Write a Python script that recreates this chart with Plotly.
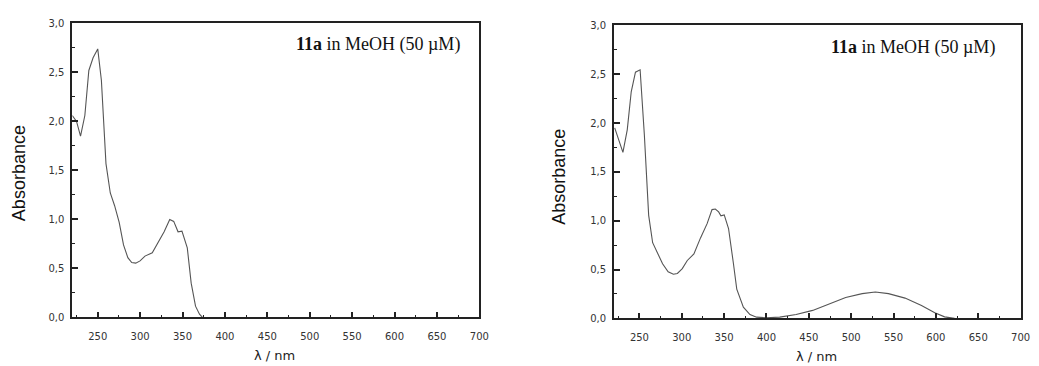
import plotly.graph_objects as go

# UV-Vis absorption spectra of 11a in MeOH (50 µM)
wl_a = [220, 225, 229.7, 234.8, 239.5, 244.5, 250, 254.3, 259.7, 264.8, 269.9, 275.3,
        280.4, 285.5, 290.1, 294.8, 299.9, 305.7, 314.3, 319.3, 328.3, 334.9, 339.6,
        344.7, 349.3, 355.6, 360.2, 365.3, 370, 373.5]
abs_a = [2.06, 2.0, 1.85, 2.06, 2.52, 2.65, 2.74, 2.42, 1.57, 1.27, 1.14, 0.97,
         0.74, 0.61, 0.56, 0.554, 0.577, 0.626, 0.66, 0.74, 0.874, 1.0, 0.98,
         0.874, 0.88, 0.71, 0.35, 0.115, 0.033, 0.0]

wl_b = [220.8, 230.5, 235.6, 240.3, 245.3, 250.8, 255.8, 260.9, 265.6, 271.4, 277.3,
        283.9, 290.1, 294.8, 300.6, 306.5, 314.3, 322.1, 329.9, 335.7, 339.6, 343.5,
        346.2, 350.1, 355.2, 361, 364.9, 372.7, 380.5, 388.3, 400, 415.6, 435, 454.5,
        474, 493.5, 513, 528.5, 544, 563.6, 583, 598.7, 610.3, 622]
abs_b = [1.95, 1.70, 1.93, 2.32, 2.52, 2.545, 1.88, 1.055, 0.775, 0.66, 0.56,
         0.478, 0.452, 0.46, 0.51, 0.593, 0.66, 0.824, 0.97, 1.114, 1.12, 1.09,
         1.05, 1.06, 0.92, 0.56, 0.30, 0.115, 0.04, 0.013, 0.007, 0.013, 0.04, 0.082,
         0.148, 0.214, 0.254, 0.27, 0.254, 0.208, 0.132, 0.059, 0.016, 0.0]

x_range = [220, 700]
y_range = [0, 3]

fig = go.Figure()
fig.add_trace(go.Scatter(x=wl_a, y=abs_a, mode="lines", line=dict(color="#555555", width=1.1),
                         xaxis="x", yaxis="y", showlegend=False))
fig.add_trace(go.Scatter(x=wl_b, y=abs_b, mode="lines", line=dict(color="#555555", width=1.1),
                         xaxis="x2", yaxis="y2", showlegend=False))

tick_font = dict(family="DejaVu Sans", size=10, color="#333333")

def xax(domain, anchor):
    return dict(domain=domain, anchor=anchor, range=x_range, dtick=50, tick0=0,
                ticks="inside", ticklen=6, tickwidth=1.5, tickcolor="#222222",
                minor=dict(dtick=25, tick0=0, ticks="inside", ticklen=3, tickwidth=1.2, tickcolor="#222222"),
                showline=True, linecolor="#222222", linewidth=1.8, mirror=True,
                showgrid=False, zeroline=False, tickfont=tick_font, ticklabelstandoff=9)

def yax(domain, anchor):
    return dict(domain=domain, anchor=anchor, range=y_range, dtick=0.5, tick0=0,
                tickformat=".1f", ticks="inside", ticklen=6, tickwidth=1.5, tickcolor="#222222",
                minor=dict(dtick=0.25, tick0=0, ticks="inside", ticklen=3, tickwidth=1.2, tickcolor="#222222"),
                showline=True, linecolor="#222222", linewidth=1.8, mirror=True,
                showgrid=False, zeroline=False, tickfont=tick_font, ticklabelstandoff=4)

W, H = 1039, 366
fig.update_layout(
    width=W, height=H,
    margin=dict(l=0, r=0, t=0, b=0),
    paper_bgcolor="white", plot_bgcolor="white",
    separators=",.",
    xaxis=xax([73 / W, 484 / W], "y"),
    yaxis=yax([1 - 322 / H, 1 - 18 / H], "x"),
    xaxis2=xax([620 / W, 1030.5 / W], "y2"),
    yaxis2=yax([1 - 323 / H, 1 - 20 / H], "x2"),
)

label_txt = "<b>11a</b> in MeOH (50 µM)"
for xr, yc in [(466, 40), (1007, 43)]:
    fig.add_annotation(text=label_txt, xref="paper", yref="paper", x=xr / W, y=1 - yc / H,
                       xanchor="right", yanchor="middle", showarrow=False,
                       font=dict(family="Liberation Serif", size=18, color="#111111"))

for xc, yc in [(20, 173), (565, 177)]:
    fig.add_annotation(text="Absorbance", xref="paper", yref="paper", x=xc / W, y=1 - yc / H,
                       xanchor="center", yanchor="middle", textangle=-90, showarrow=False,
                       font=dict(family="Liberation Sans", size=18, color="#111111"))

for xc, yc in [(277, 361), (824, 362)]:
    fig.add_annotation(text="λ / nm", xref="paper", yref="paper", x=xc / W, y=1 - yc / H,
                       xanchor="center", yanchor="middle", showarrow=False,
                       font=dict(family="DejaVu Sans", size=13, color="#222222"))

fig.write_html("out.html")
